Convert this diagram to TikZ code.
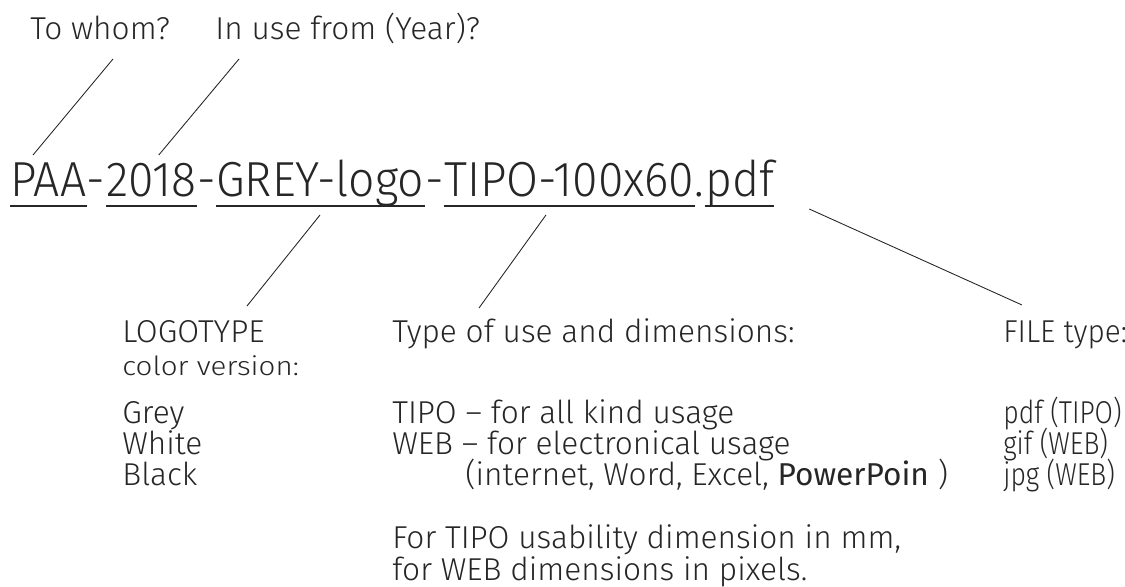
\documentclass[tikz,border=0pt]{standalone}
\usepackage{fontspec}
\setmainfont{Fira Sans Light}
\newfontfamily\firareg{Fira Sans}
\newfontfamily\firaname{Fira Sans Light}[FakeStretch=0.94]
\newfontfamily\firasmall{Fira Sans Light}[FakeStretch=1.12]
\newfontfamily\firanarrow{Fira Sans Light}[FakeStretch=0.84]
\usetikzlibrary{calc}
\definecolor{ink}{HTML}{262626}
\tikzset{
    lbl/.style={inner sep=0pt, anchor=base west, text=ink, font=\fontsize{18}{18}\selectfont},
    small/.style={lbl, font=\firasmall\fontsize{15}{15}\selectfont},
    narrow/.style={lbl, font=\firanarrow\fontsize{18}{18}\selectfont},
    fname/.style={inner sep=0pt, anchor=base west, text=ink, font=\firaname\fontsize{28}{28}\selectfont},
    uline/.style={draw=ink, line width=1.7pt},
    conn/.style={draw=ink, line width=0.5pt},
}
\begin{document}
\begin{tikzpicture}[x=0.02cm,y=-0.02cm]
        \useasboundingbox (0,0) rectangle (1125,587);
        % questions on top
        \node[lbl] (whom) at (30,40) {To whom?};
        \node[lbl] (inuse) at (215,40) {In use from (Year)?};
        % the file name
        \node[fname] (fpaa) at (10,197) {PAA};
        \node[fname] (fh1) at (fpaa.base east) {-};
        \node[fname] (fyear) at (fh1.base east) {2018};
        \node[fname] (fh2) at (fyear.base east) {-};
        \node[fname] (flogo) at (fh2.base east) {GREY-logo};
        \node[fname] (fh3) at (flogo.base east) {-};
        \node[fname] (ftipo) at (fh3.base east) {TIPO-100x60};
        \node[fname] (fdot) at (ftipo.base east) {.};
        \node[fname] (fpdf) at (fdot.base east) {pdf};
        \foreach \part in {fpaa,fyear,flogo,ftipo,fpdf}
            \draw[uline] ($(\part.base west)+(0,9)$) -- ($(\part.base east)+(0,9)$);
        % logotype column
        \node[lbl] (logotype) at (122,342) {LOGOTYPE};
        \node[small] (colver) at (122,375) {color version:};
        \node[lbl] (grey) at (122,423) {Grey};
        \node[lbl] (white) at (122,454) {White};
        \node[lbl] (black) at (122,485) {Black};
        % type of use column
        \node[lbl] (typeuse) at (392,342) {Type of use and dimensions:};
        \node[lbl] (tipo) at (392,423) {TIPO -- for all kind usage};
        \node[lbl] (web) at (392,454) {WEB -- for electronical usage};
        \node[lbl] (internet) at (465,485) {(internet, Word, Excel, {\firareg PowerPoin} )};
        \node[lbl] (fortipo) at (392,548) {For TIPO usability dimension in mm,};
        \node[lbl] (forweb) at (392,580) {for WEB dimensions in pixels.};
        % file type column
        \node[lbl, font=\firaname\fontsize{18}{18}\selectfont] (filetype) at (1003,342) {FILE type:};
        \node[narrow] (pdfv) at (1003,423) {pdf (TIPO)};
        \node[narrow] (gifv) at (1003,454) {gif (WEB)};
        \node[narrow] (jpgv) at (1003,485) {jpg (WEB)};
        % pointers
        \draw[conn] ($(fpaa.base west)+(23,-42)$) -- ($(whom.base west)+(83,19)$);
        \draw[conn] ($(fyear.base west)+(53,-42)$) -- ($(inuse.base west)+(24,19)$);
        \draw[conn] ($(flogo.base west)+(104,18)$) -- ($(logotype.base west)+(125,-36)$);
        \draw[conn] ($(ftipo.base west)+(102,18)$) -- ($(typeuse.base west)+(87,-34)$);
        \draw[conn] ($(fpdf.base east)+(35,12)$) -- ($(filetype.base west)+(19,-37)$);
\end{tikzpicture}
\end{document}
